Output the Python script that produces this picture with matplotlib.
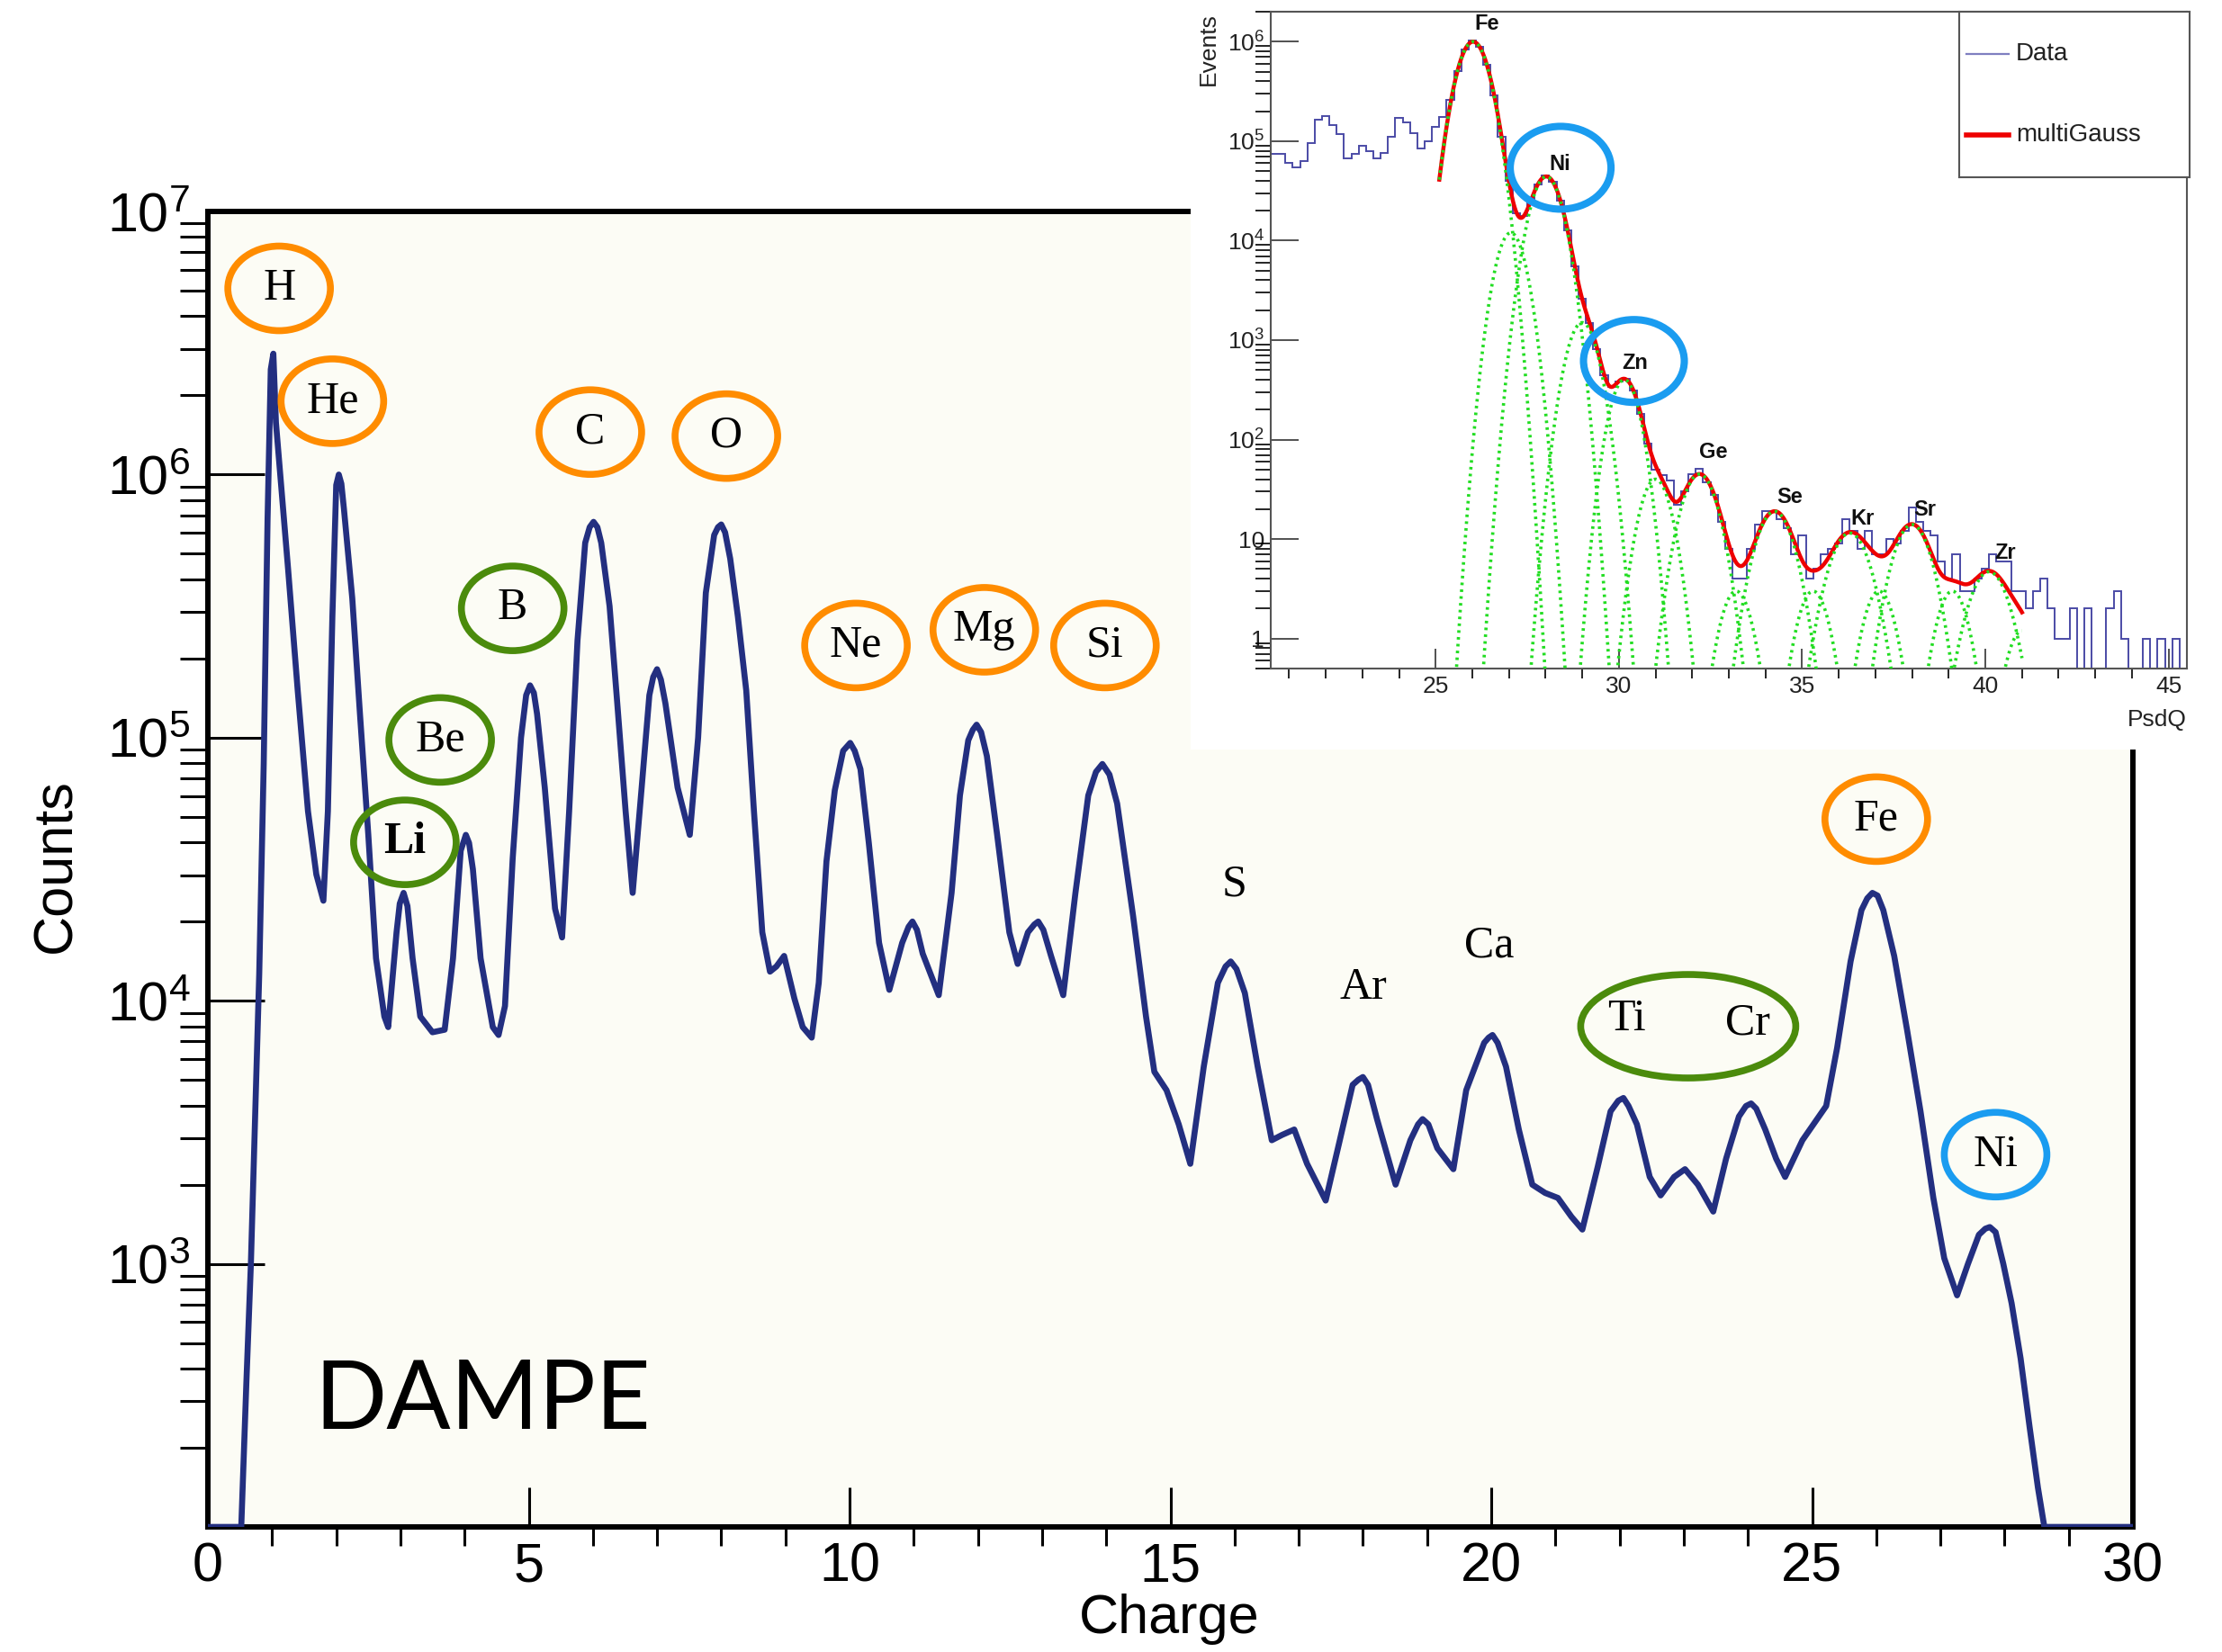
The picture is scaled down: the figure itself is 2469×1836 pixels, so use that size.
import numpy as np
import matplotlib
matplotlib.use('Agg')
import matplotlib.pyplot as plt
from matplotlib import font_manager
from matplotlib.patches import Ellipse, Rectangle
from matplotlib.lines import Line2D
from matplotlib.transforms import ScaledTranslation
from matplotlib.ticker import FixedLocator, LogLocator, MultipleLocator, NullFormatter

# Main DAMPE charge spectrum
charge = [0.00, 0.52, 0.60, 0.67, 0.75, 0.80, 0.87, 0.93, 0.98, 1.02,
          1.06, 1.25, 1.40, 1.56, 1.69, 1.80, 1.87, 1.94, 2.00, 2.04,
          2.08, 2.12, 2.25, 2.37, 2.50, 2.62, 2.75, 2.81, 2.94, 2.99,
          3.05, 3.11, 3.19, 3.31, 3.50, 3.69, 3.82, 3.94, 4.02, 4.07,
          4.13, 4.25, 4.44, 4.53, 4.63, 4.75, 4.88, 4.96, 5.02, 5.08,
          5.13, 5.25, 5.41, 5.52, 5.63, 5.76, 5.88, 5.95, 6.01, 6.07,
          6.13, 6.26, 6.38, 6.51, 6.62, 6.76, 6.88, 6.94, 7.00, 7.06,
          7.13, 7.32, 7.51, 7.64, 7.76, 7.89, 7.95, 8.00, 8.06, 8.14,
          8.26, 8.39, 8.51, 8.64, 8.76, 8.86, 8.98, 9.14, 9.27, 9.41,
          9.52, 9.64, 9.77, 9.90, 10.01, 10.08, 10.17, 10.30, 10.46, 10.62,
          10.82, 10.92, 10.98, 11.05, 11.14, 11.39, 11.59, 11.72, 11.85, 11.92,
          11.98, 12.05, 12.14, 12.30, 12.49, 12.62, 12.78, 12.88, 12.94, 13.02,
          13.14, 13.33, 13.52, 13.72, 13.84, 13.94, 14.05, 14.17, 14.42, 14.62,
          14.75, 14.94, 15.13, 15.31, 15.52, 15.74, 15.86, 15.94, 16.03, 16.16,
          16.36, 16.58, 16.74, 16.93, 17.13, 17.42, 17.64, 17.84, 17.93, 18.00,
          18.08, 18.22, 18.51, 18.74, 18.86, 18.93, 19.02, 19.16, 19.41, 19.61,
          19.89, 19.96, 20.02, 20.10, 20.23, 20.43, 20.64, 20.84, 21.04, 21.25,
          21.42, 21.66, 21.86, 21.98, 22.06, 22.14, 22.27, 22.47, 22.64, 22.85,
          23.02, 23.22, 23.46, 23.66, 23.86, 23.97, 24.05, 24.13, 24.27, 24.44,
          24.58, 24.85, 25.05, 25.22, 25.39, 25.60, 25.77, 25.86, 25.94, 26.02,
          26.11, 26.28, 26.48, 26.69, 26.89, 27.06, 27.26, 27.43, 27.60, 27.70,
          27.77, 27.86, 27.98, 28.11, 28.25, 28.39, 28.52, 28.62, 30.00]
counts = [100, 100, 355, 1000, 4680, 12600, 79400, 676000, 2.51e6, 2.88e6,
          1.58e6, 4.37e5, 1.51e5, 5.25e4, 3.02e4, 2.40e4, 5.25e4, 2.88e5, 9.12e5, 1.0e6,
          9.23e5, 7.41e5, 3.39e5, 1.23e5, 4.27e4, 1.45e4, 8710, 7940, 1.82e4, 2.34e4,
          2.57e4, 2.29e4, 1.45e4, 8710, 7590, 7760, 1.45e4, 3.72e4, 4.27e4, 3.98e4,
          3.16e4, 1.45e4, 7940, 7410, 9550, 3.47e4, 1.0e5, 1.45e5, 1.58e5, 1.48e5,
          1.23e5, 6.46e4, 2.24e4, 1.74e4, 5.25e4, 2.34e5, 5.50e5, 6.31e5, 6.61e5, 6.31e5,
          5.50e5, 3.16e5, 1.35e5, 5.25e4, 2.57e4, 6.46e4, 1.45e5, 1.70e5, 1.82e5, 1.66e5,
          1.35e5, 6.46e4, 4.27e4, 1.0e5, 3.55e5, 5.89e5, 6.31e5, 6.46e5, 6.03e5, 4.79e5,
          2.88e5, 1.51e5, 5.25e4, 1.82e4, 1.29e4, 1.35e4, 1.48e4, 1.02e4, 7940, 7240,
          1.17e4, 3.39e4, 6.31e4, 8.91e4, 9.55e4, 8.91e4, 7.59e4, 3.98e4, 1.66e4, 1.10e4,
          1.66e4, 1.91e4, 2.0e4, 1.86e4, 1.51e4, 1.05e4, 2.57e4, 6.03e4, 9.77e4, 1.07e5,
          1.12e5, 1.05e5, 8.51e4, 4.27e4, 1.82e4, 1.38e4, 1.82e4, 1.95e4, 2.0e4, 1.86e4,
          1.48e4, 1.05e4, 2.57e4, 6.03e4, 7.41e4, 7.94e4, 7.24e4, 5.62e4, 2.09e4, 8710,
          5370, 4570, 3390, 2400, 5620, 1.17e4, 1.35e4, 1.41e4, 1.32e4, 1.07e4,
          5620, 2950, 3090, 3240, 2400, 1740, 2950, 4790, 5010, 5130,
          4790, 3550, 2000, 2950, 3390, 3550, 3390, 2750, 2290, 4570,
          6920, 7240, 7410, 6920, 5620, 3240, 2000, 1860, 1780, 1510,
          1350, 2340, 3800, 4170, 4270, 3980, 3390, 2140, 1820, 2140,
          2290, 2000, 1580, 2510, 3630, 3980, 4070, 3890, 3240, 2510,
          2140, 2950, 3470, 3980, 6610, 1.41e4, 2.21e4, 2.45e4, 2.57e4, 2.51e4,
          2.21e4, 1.48e4, 7760, 3800, 1780, 1050, 759, 1000, 1290, 1360,
          1380, 1320, 1000, 708, 437, 240, 141, 100, 100]
assert len(charge) == len(counts)

# Inset: PsdQ histogram, bins of 0.2 starting at 20.5
hist_start = 20.5
hist_width = 0.2
hist_counts = [7.4e4, 7.4e4, 6.0e4, 5.4e4, 6.3e4, 9.6e4, 1.65e5, 1.8e5, 1.45e5, 1.17e5,
               6.7e4, 7.4e4, 8.9e4, 8.0e4, 6.7e4, 7.6e4, 1.1e5, 1.7e5, 1.55e5, 1.2e5,
               8.5e4, 1.0e5, 1.4e5, 1.75e5, 2.6e5, 5.1e5, 8.3e5, 1.02e6, 8.9e5, 5.8e5,
               2.9e5, 1.1e5, 4.0e4, 1.9e4, 1.76e4, 2.5e4, 3.7e4, 4.5e4, 3.9e4, 2.5e4,
               1.27e4, 5500, 2600, 1500, 810, 445, 340, 385, 410, 310,
               180, 92, 50, 44, 39, 22, 30, 45, 51, 37,
               28, 15, 8, 4, 4, 8, 14, 19, 19, 16,
               13, 7, 11, 4, 5, 7, 8, 9, 16, 12,
               8, 12, 7, 7, 10, 9, 12, 21, 15, 12,
               11, 6, 4, 7, 3, 3, 4, 5, 7, 6,
               6, 3, 3, 2, 3, 4, 2, 1, 1, 2,
               0, 2, 0, 0, 2, 3, 1, 0, 0, 1,
               0, 1, 0, 1, 0]

# multiGauss fit components: element, mean, amplitude, sigma
fit_range = (25.1, 41.0)
fit_elements = ['Fe', 'Co', 'Ni', 'Cu', 'Zn', 'Ga', 'Ge', 'As',
                'Se', 'Br', 'Kr', 'Rb', 'Sr', 'Y', 'Zr', 'Nb']
fit_means = [26.02, 27.05, 28.02, 29.0, 30.15, 31.0, 32.2, 33.2,
             34.25, 35.3, 36.3, 37.1, 38.0, 39.1, 40.1, 41.0]
fit_amps = [1.0e6, 1.2e4, 4.4e4, 1.5e3, 400, 40, 45, 3,
            19, 3, 11.5, 3, 14, 3, 4.7, 1.2]
fit_sigmas = [0.364, 0.33, 0.36, 0.35, 0.33, 0.35, 0.40, 0.35,
              0.42, 0.35, 0.45, 0.35, 0.42, 0.35, 0.45, 0.35]

W, H, DPI = 2469, 1836, 100

names = {f.name for f in font_manager.fontManager.ttflist}
sans = 'Liberation Sans Narrow' if 'Liberation Sans Narrow' in names else 'Liberation Sans'
plt.rcParams['font.family'] = [sans, 'DejaVu Sans']
plt.rcParams['mathtext.default'] = 'regular'

ORANGE = '#ff8c00'
GREEN = '#4b8b0c'
BLUE = '#1a9cf0'
NAVY = '#232f80'

fig = plt.figure(figsize=(W / DPI, H / DPI), dpi=DPI)
fig.patch.set_facecolor('white')

# ---------------- main panel ----------------
ax = fig.add_axes([231 / W, 1 - 1697 / H, (2370 - 231) / W, (1697 - 235) / H])
ax.set_facecolor('#fcfcf5')
ax.plot(charge, counts, color=NAVY, lw=4.8, solid_joinstyle='round', zorder=3)
ax.set_yscale('log')
ax.set_xlim(0, 30)
ax.set_ylim(100, 1e7)

ax.xaxis.set_major_locator(MultipleLocator(5))
ax.xaxis.set_minor_locator(MultipleLocator(1))
ax.yaxis.set_major_locator(FixedLocator([1e3, 1e4, 1e5, 1e6, 1e7]))
ax.yaxis.set_minor_locator(LogLocator(base=10, subs=np.arange(2, 10), numticks=20))
ax.yaxis.set_minor_formatter(NullFormatter())
ax.set_yticklabels([r'$10^{3}$', r'$10^{4}$', r'$10^{5}$', r'$10^{6}$', r'$10^{7}$'])
ax.tick_params(direction='in', top=False, right=False)
ax.tick_params(axis='x', which='major', length=32, width=2.2, labelsize=44, pad=12)
ax.tick_params(axis='x', which='minor', length=15, width=2.2)
ax.tick_params(axis='y', which='major', length=45, width=2.2, labelsize=44, pad=14)
ax.tick_params(axis='y', which='minor', length=22, width=2.2)
for s in ax.spines.values():
    s.set_linewidth(4.3)

fig.text(1299 / W, 1 - 1800 / H, 'Charge', ha='center', va='center', fontsize=44)
fig.text(63 / W, 1 - 962 / H, 'Counts', ha='center', va='center', fontsize=44, rotation=90)


def ring(axes, x, y, w, h, color, lw=5.5):
    tr = fig.dpi_scale_trans + ScaledTranslation(x, y, axes.transData)
    axes.add_patch(Ellipse((0, 0), w, h, transform=tr, fill=False, ec=color, lw=lw, zorder=4))


serif = 'Liberation Serif'
# element labels in the main panel: text, charge, counts, ring colour
circled = [('H', 1.11, 5.1e6, ORANGE), ('He', 1.94, 1.9e6, ORANGE),
           ('C', 5.96, 1.45e6, ORANGE), ('O', 8.08, 1.4e6, ORANGE),
           ('B', 4.75, 3.1e5, GREEN), ('Be', 3.62, 9.8e4, GREEN),
           ('Li', 3.07, 4.0e4, GREEN), ('Ne', 10.1, 2.24e5, ORANGE),
           ('Mg', 12.1, 2.57e5, ORANGE), ('Si', 13.98, 2.24e5, ORANGE),
           ('Fe', 26.0, 4.9e4, ORANGE), ('Ni', 27.86, 2.6e3, BLUE)]
for name, x, y, col in circled:
    ax.text(x, y, name, ha='center', va='center', fontsize=36, family=serif,
            fontweight='bold' if name == 'Li' else 'normal', zorder=5)
    ring(ax, x, y, 1.14, 0.94, col)

for name, x, y in [('S', 15.99, 2.75e4), ('Ar', 18.0, 1.12e4), ('Ca', 19.97, 1.62e4),
                   ('Ti', 22.11, 8.5e3), ('Cr', 23.99, 8.2e3)]:
    ax.text(x, y, name, ha='center', va='center', fontsize=36, family=serif, zorder=5)
ring(ax, 23.07, 8.0e3, 2.39, 1.15, GREEN)

ax.text(1.66, 236, 'DAMPE', ha='left', va='baseline', fontsize=76, family='Lato', zorder=5)

# ---------------- inset ----------------
fig.add_artist(Rectangle((1323 / W, 1 - 833 / H), (W - 1323) / W, 833 / H,
                         transform=fig.transFigure, fc='white', ec='none', zorder=5))

axi = fig.add_axes([1412 / W, 1 - 743 / H, (2430 - 1412) / W, (743 - 13) / H])
axi.set_zorder(6)
axi.set_facecolor('white')
edges = hist_start + hist_width * np.arange(len(hist_counts) + 1)
axi.stairs(hist_counts, edges, baseline=None, color='#4b4ba6', lw=1.4, zorder=2)

xf = np.linspace(fit_range[0], fit_range[1], 900)
total = np.zeros_like(xf)
for m, a, s in zip(fit_means, fit_amps, fit_sigmas):
    g = a * np.exp(-0.5 * ((xf - m) / s) ** 2)
    total += g
    axi.plot(xf, g, color='#22dd22', lw=2.6, ls=(0, (0.8, 1.3)), zorder=4)
axi.plot(xf, total, color='#ee0000', lw=3.2, zorder=3)

axi.set_yscale('log')
axi.set_xlim(20.5, 45.5)
axi.set_ylim(0.5, 2e6)
axi.xaxis.set_major_locator(MultipleLocator(5))
axi.xaxis.set_minor_locator(MultipleLocator(1))
axi.yaxis.set_major_locator(FixedLocator([1, 10, 1e2, 1e3, 1e4, 1e5, 1e6]))
axi.yaxis.set_minor_locator(LogLocator(base=10, subs=np.arange(2, 10), numticks=20))
axi.yaxis.set_minor_formatter(NullFormatter())
axi.set_yticklabels(['1', '10', r'$10^{2}$', r'$10^{3}$', r'$10^{4}$', r'$10^{5}$', r'$10^{6}$'])
axi.tick_params(direction='in', top=False, right=False, colors='#333333', labelcolor='#222222')
axi.tick_params(axis='x', which='major', length=16, width=1.2, labelsize=19, pad=6)
axi.tick_params(axis='x', which='minor', length=8, width=1.2)
axi.tick_params(axis='y', which='major', length=22, width=1.2, labelsize=19, pad=5)
axi.tick_params(axis='y', which='minor', length=12, width=1.2)
for s in axi.spines.values():
    s.set_linewidth(1.5)
    s.set_color('#555555')

fig.text(1343 / W, 1 - 14 / H, 'Events', ha='center', va='top', rotation=90,
         fontsize=19, color='#222222', zorder=7)
fig.text(2430 / W, 1 - 800 / H, 'PsdQ', ha='right', va='center',
         fontsize=19, color='#222222', zorder=7)

for name, x, y in [('Fe', 26.39, 1.5e6), ('Ni', 28.39, 5.9e4), ('Zn', 30.43, 590),
                   ('Ge', 32.58, 75), ('Se', 34.66, 26.6), ('Kr', 36.64, 16),
                   ('Sr', 38.36, 19.7), ('Zr', 40.53, 7.2)]:
    axi.text(x, y, name, ha='center', va='center', fontsize=17, fontweight='bold',
             color='#111111', zorder=6)
ring(axi, 28.41, 5.4e4, 1.12, 0.92, BLUE, lw=5.8)
ring(axi, 30.41, 617, 1.12, 0.92, BLUE, lw=5.8)

# legend box
axl = fig.add_axes([2177 / W, 1 - 197 / H, 256 / W, 184 / H])
axl.set_zorder(7)
axl.set_facecolor('white')
axl.set_xticks([])
axl.set_yticks([])
axl.set_xlim(0, 1)
axl.set_ylim(0, 1)
for s in axl.spines.values():
    s.set_linewidth(1.5)
    s.set_color('#555555')
axl.add_line(Line2D([0.03, 0.215], [0.745, 0.745], color='#7f7fc0', lw=1.6))
axl.text(0.245, 0.745, 'Data', ha='left', va='center', fontsize=20, color='#222222')
axl.add_line(Line2D([0.03, 0.215], [0.255, 0.255], color='#ee0000', lw=4))
axl.text(0.245, 0.255, 'multiGauss', ha='left', va='center', fontsize=20, color='#222222')

fig.savefig('out.png', dpi=DPI)
